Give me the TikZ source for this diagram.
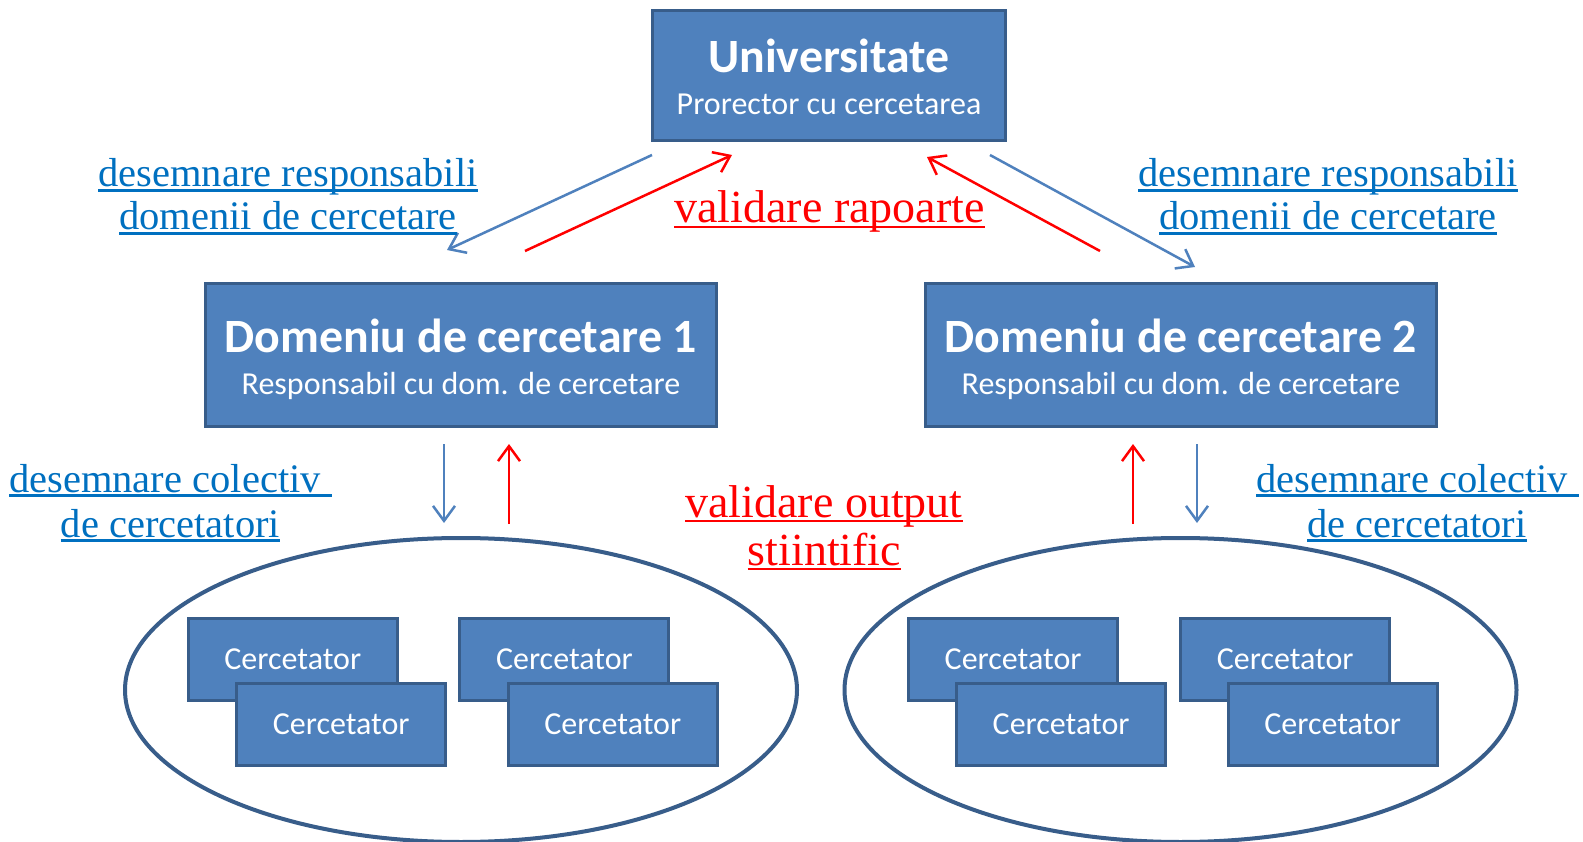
\documentclass[tikz,border=0pt]{standalone}
\usepackage{fontspec}
\setmainfont{Liberation Serif}
\newfontfamily\calfont{Carlito}
\usetikzlibrary{arrows.meta,shapes.geometric}
\definecolor{boxfill}{HTML}{4F81BD}
\definecolor{boxline}{HTML}{385D8A}
\definecolor{lblue}{HTML}{0070C0}
\definecolor{arrblue}{HTML}{4F81BD}
\definecolor{arrred}{HTML}{FF0000}
\tikzset{
  bigbox/.style={draw=boxline, fill=boxfill, line width=3pt, inner sep=0pt, minimum width=511pt, minimum height=143pt},
  resbox/.style={draw=boxline, fill=boxfill, line width=3pt, inner sep=0pt, minimum width=209pt, minimum height=82pt,
     text=white, font=\calfont\fontsize{32}{32}\selectfont},
  grp/.style={draw=boxline, line width=4pt, ellipse, inner sep=0pt, minimum width=672pt, minimum height=304pt},
  titletxt/.style={text=white, inner sep=0pt, anchor=base, font=\calfont\bfseries\fontsize{47.8}{47.8}\selectfont},
  subtxt/.style={text=white, inner sep=0pt, anchor=base, font=\calfont\fontsize{32}{32}\selectfont},
  lblb/.style={text=lblue, inner sep=0pt, anchor=base, font=\fontsize{40.5}{44}\selectfont},
  lblr/.style={text=arrred, inner sep=0pt, anchor=base, font=\fontsize{46}{50}\selectfont},
  ulb/.style={draw=lblue, line width=2.6pt},
  ulr/.style={draw=arrred, line width=2.6pt},
  tipb/.style={-{Straight Barb[length=15pt,width=22pt]}},
  arrb/.style={tipb, draw=arrblue, line width=2.5pt},
  arrr/.style={tipb, draw=arrred, line width=2.5pt}
}
\begin{document}
\begin{tikzpicture}[x=1pt,y=-1pt]
\useasboundingbox (0,0) rectangle (1583,842);
\fill[white] (0,0) rectangle (1583,842);

% groups
\node[grp] (g1) at (461,690) {};
\node[grp] (g2) at (1180.5,690) {};

% main boxes
\node[bigbox, minimum width=353pt, minimum height=130pt] (uni) at (829,75.5) {};
\node[titletxt] (unit) at (829,73) {Universitate};
\node[subtxt] (unis) at (829,115) {Prorector cu cercetarea};

\node[bigbox] (d1) at (461,355) {};
\node[titletxt] (d1t) at (461,353) {Domeniu de cercetare 1};
\node[subtxt] (d1s) at (461,395) {Responsabil cu dom. de cercetare};

\node[bigbox] (d2) at (1181,355) {};
\node[titletxt] (d2t) at (1181,353) {Domeniu de cercetare 2};
\node[subtxt] (d2s) at (1181,395) {Responsabil cu dom. de cercetare};

% researchers
\node[resbox] (c1a) at (292.8,659.5) {Cercetator};
\node[resbox] (c1b) at (341.2,724) {Cercetator};
\node[resbox] (c2a) at (564.4,659.5) {Cercetator};
\node[resbox] (c2b) at (612.8,724) {Cercetator};
\node[resbox] (c3a) at (1013.1,659.5) {Cercetator};
\node[resbox] (c3b) at (1061.1,724) {Cercetator};
\node[resbox] (c4a) at (1285.2,659.5) {Cercetator};
\node[resbox] (c4b) at (1332.7,724) {Cercetator};

% arrow end points
\coordinate (bl1) at (652,155);  \coordinate (bl2) at (447,250);
\coordinate (rl1) at (525,251);  \coordinate (rl2) at (732,155);
\coordinate (rr1) at (1100,251); \coordinate (rr2) at (927,157);
\coordinate (br1) at (990,155);  \coordinate (br2) at (1195,267);
\coordinate (vb1) at (444,444);  \coordinate (vb2) at (444,523);
\coordinate (vr1) at (509,524);  \coordinate (vr2) at (509,444);
\coordinate (wr1) at (1133,524); \coordinate (wr2) at (1133,444);
\coordinate (wb1) at (1197,444); \coordinate (wb2) at (1197,523);

\draw[arrb] (bl1) -- (bl2);
\draw[arrr] (rl1) -- (rl2);
\draw[arrr] (rr1) -- (rr2);
\draw[arrb] (br1) -- (br2);
\draw[arrb] (vb1) -- (vb2);
\draw[arrr] (vr1) -- (vr2);
\draw[arrr] (wr1) -- (wr2);
\draw[arrb] (wb1) -- (wb2);

% labels
\node[lblb] (lra) at (288,187) {desemnare responsabili};
\node[lblb] (lrb) at (288,230) {domenii de cercetare};
\node[lblb] (rra) at (1328,187) {desemnare responsabili};
\node[lblb] (rrb) at (1328,230) {domenii de cercetare};
\node[lblb] (lca) at (170.5,492) {desemnare colectiv\kern11pt};
\node[lblb] (lcb) at (170.5,537) {de cercetatori};
\node[lblb] (rca) at (1417.5,492) {desemnare colectiv\kern11pt};
\node[lblb] (rcb) at (1417,537) {de cercetatori};

\node[lblr] (vra) at (829.5,223) {validare rapoarte};
\node[lblr] (voa) at (824,517) {validare output};
\node[lblr] (vob) at (824.5,565) {stiintific};

\foreach \n in {lra,lrb,rra,rrb,lca,lcb,rca,rcb}
  \draw[ulb] ([yshift=-3.5pt]\n.base west) -- ([yshift=-3.5pt]\n.base east);
\foreach \n in {vra,voa,vob}
  \draw[ulr] ([yshift=-4pt]\n.base west) -- ([yshift=-4pt]\n.base east);
\end{tikzpicture}
\end{document}
